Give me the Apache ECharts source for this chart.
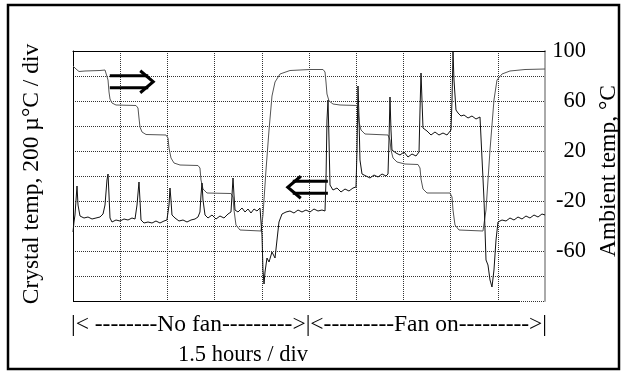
<!DOCTYPE html>
<html>
<head>
<meta charset="utf-8">
<script src="https://cdn.jsdelivr.net/npm/echarts@6/dist/echarts.min.js"></script>
<style>
  html, body { margin: 0; padding: 0; background: #fff; }
  #chart { width: 622px; height: 372px; }
</style>
</head>
<body>
<div id="chart"></div>
<script>
// x in time divisions (1.5 h / div), crystal in divisions (200 µ°C / div), ambient in °C
const crystalNoFan = [
    [0, 2.76], [0.021, 3.16], [0.042, 3.44], [0.064, 4.04], [0.085, 4.6], [0.106, 3.84], [0.148, 3.4],
    [0.233, 3.32], [0.318, 3.36], [0.403, 3.28], [0.487, 3.32], [0.572, 3.36], [0.636, 3.48], [0.678, 3.84],
    [0.72, 4.84], [0.742, 5.08], [0.763, 4.24], [0.784, 3.32], [0.826, 3.16], [0.911, 3.24], [0.996, 3.2],
    [1.081, 3.28], [1.165, 3.24], [1.25, 3.32], [1.314, 3.28], [1.356, 3.84], [1.398, 4.76], [1.419, 4.04],
    [1.441, 3.24], [1.504, 3.12], [1.589, 3.16], [1.674, 3.12], [1.758, 3.2], [1.843, 3.12], [1.928, 3.2],
    [1.99, 3.24], [2.034, 3.84], [2.055, 4.52], [2.076, 4.04], [2.097, 3.44], [2.161, 3.32], [2.246, 3.2],
    [2.331, 3.24], [2.415, 3.16], [2.5, 3.24], [2.585, 3.28], [2.648, 3.36], [2.69, 3.56], [2.712, 4.24],
    [2.733, 4.72], [2.754, 4.04], [2.797, 3.44], [2.86, 3.32], [2.945, 3.44], [3.03, 3.28], [3.114, 3.4],
    [3.199, 3.32], [3.284, 3.48], [3.347, 3.56], [3.369, 4.24], [3.39, 4.92], [3.411, 4.24], [3.432, 3.64],
    [3.496, 3.56], [3.581, 3.72], [3.644, 3.56], [3.708, 3.68], [3.771, 3.52], [3.835, 3.68], [3.898, 3.6],
    [3.962, 3.72], [3.983, 3.68]
];
const crystalFanOn = [
    [4.004, 2.64], [4.025, 1.24], [4.047, 0.68], [4.068, 1.16], [4.11, 1.72], [4.153, 1.56], [4.216, 1.96],
    [4.28, 1.72], [4.322, 2.44], [4.364, 3.16], [4.428, 3.48], [4.513, 3.56], [4.597, 3.6], [4.682, 3.52],
    [4.767, 3.64], [4.852, 3.56], [4.936, 3.64], [5.021, 3.56], [5.106, 3.68], [5.191, 3.6], [5.275, 3.64],
    [5.339, 3.6], [5.36, 4.84], [5.381, 7.24], [5.403, 8.04], [5.424, 6.44], [5.445, 4.64], [5.508, 4.44],
    [5.593, 4.52], [5.678, 4.36], [5.763, 4.48], [5.847, 4.4], [5.932, 4.52], [5.996, 4.56], [6.017, 6.04],
    [6.038, 8.6], [6.059, 7.36], [6.08, 5.64], [6.123, 5.08], [6.208, 5.0], [6.292, 4.92], [6.377, 5.04],
    [6.462, 4.96], [6.547, 5.08], [6.631, 5.0], [6.674, 5.08], [6.695, 6.44], [6.716, 8.16], [6.737, 6.84],
    [6.758, 6.04], [6.843, 5.92], [6.928, 5.84], [7.013, 5.96], [7.097, 5.76], [7.182, 5.88], [7.267, 5.8],
    [7.331, 5.96], [7.352, 7.64], [7.373, 9.12], [7.394, 8.04], [7.415, 6.92], [7.5, 6.8], [7.585, 6.64],
    [7.669, 6.76], [7.754, 6.64], [7.839, 6.72], [7.924, 6.64], [8.008, 6.84], [8.03, 8.04], [8.051, 9.96],
    [8.072, 8.84], [8.114, 7.64], [8.157, 7.52], [8.22, 7.4], [8.284, 7.44], [8.369, 7.32], [8.453, 7.4],
    [8.538, 7.28], [8.623, 7.36], [8.665, 7.32], [8.708, 4.04], [8.75, 1.64], [8.792, 1.44], [8.835, 0.84],
    [8.877, 0.56], [8.919, 1.24], [8.962, 2.44], [9.004, 3.16], [9.089, 3.24], [9.174, 3.2], [9.258, 3.32],
    [9.343, 3.24], [9.428, 3.36], [9.513, 3.28], [9.597, 3.4], [9.682, 3.32], [9.767, 3.44], [9.852, 3.36],
    [9.936, 3.48], [10, 3.44]
];
const ambientNoFan = [
    [0, 88], [0.064, 85.6], [0.127, 83.6], [0.254, 84], [0.572, 84.4], [0.678, 84.8], [0.72, 83.2],
    [0.742, 76.8], [0.763, 67.2], [0.784, 61.6], [0.826, 58.4], [0.911, 56.8], [1.335, 56.4], [1.377, 54.4],
    [1.398, 46.4], [1.419, 39.2], [1.462, 35.2], [1.547, 33.2], [1.97, 32.8], [2.013, 30.4], [2.034, 22.4],
    [2.076, 14.4], [2.14, 10.4], [2.267, 8.8], [2.648, 8.4], [2.69, 6.4], [2.712, -3.2], [2.754, -10.4],
    [2.839, -13.6], [3.347, -14], [3.39, -16.8], [3.411, -27.2], [3.453, -39.2], [3.538, -43.2], [3.983, -44]
];
const ambientFanOn = [
    [4.025, -31.2], [4.089, 4.8], [4.153, 36.8], [4.216, 64], [4.28, 75.2], [4.386, 81.6], [4.597, 84.4],
    [5.021, 85.2], [5.297, 85.2], [5.339, 83.2], [5.36, 75.2], [5.381, 65.6], [5.424, 60], [5.508, 57.6],
    [5.657, 56.8], [6.017, 56.4], [6.038, 52.8], [6.059, 43.2], [6.102, 36.8], [6.186, 33.6], [6.674, 32.8],
    [6.716, 28.8], [6.737, 20.8], [6.78, 14.4], [6.864, 11.2], [7.034, 9.6], [7.309, 9.2], [7.352, 6.4],
    [7.373, -2.4], [7.415, -10.4], [7.5, -13.6], [7.987, -13.6], [8.03, -16.8], [8.051, -27.2], [8.093, -39.2],
    [8.178, -43.2], [8.686, -44], [8.75, -27.2], [8.835, 20.8], [8.919, 60.8], [8.983, 76.8], [9.089, 81.6],
    [9.258, 84], [9.576, 85.2], [10, 85.6]
];
const ambientTicks = [100, 60, 20, -20, -60];
const phaseText = '|< --------No fan--------->|<---------Fan on--------->|';
const timeText = '1.5 hours / div';
const crystalTitle = 'Crystal temp, 200 µ°C / div';
const ambientTitle = 'Ambient temp, °C';

const FONT = "'Liberation Serif', 'Times New Roman', serif";
const chart = echarts.init(document.getElementById('chart'), null, { renderer: 'canvas' });

const option = {
    animation: false,
    backgroundColor: '#fff',
    grid: { left: 73, top: 51, width: 472, height: 250, containLabel: false },
    xAxis: [
        {
            type: 'value', min: 0, max: 10, interval: 1,
            axisLabel: { show: false }, axisTick: { show: false },
            axisLine: { show: false },
            splitLine: { lineStyle: { type: 'dotted', color: '#333', width: 1 } }
        },
        {
            type: 'value', position: 'top', min: 0, max: 10,
            axisLabel: { show: false }, axisTick: { show: false }, splitLine: { show: false },
            axisLine: { onZero: false, lineStyle: { color: '#000', width: 1 } }
        }
    ],
    yAxis: [
        {
            type: 'value', position: 'left', min: 0, max: 10, interval: 1,
            axisLabel: { show: false }, axisTick: { show: false },
            axisLine: { show: true, onZero: false, lineStyle: { color: '#000', width: 1 } },
            splitLine: { lineStyle: { type: 'dotted', color: '#333', width: 1 } }
        },
        {
            type: 'value', position: 'right', min: -100, max: 100, interval: 40,
            axisTick: { show: false }, splitLine: { show: false },
            axisLine: { show: true, onZero: false, lineStyle: { color: '#aaa', width: 2 } },
            axisLabel: {
                align: 'right', margin: 41, color: '#000', fontSize: 22.5, fontFamily: FONT,
                showMinLabel: true, showMaxLabel: true,
                formatter: v => ambientTicks.includes(v) ? String(v) : ''
            }
        }
    ],
    series: [
        {
            name: 'Ambient', type: 'line', yAxisIndex: 1, symbol: 'none',
            data: ambientNoFan.concat(ambientFanOn),
            lineStyle: { color: '#555', width: 1 }
        },
        {
            name: 'Crystal', type: 'line', yAxisIndex: 0, symbol: 'none',
            data: crystalNoFan.concat(crystalFanOn),
            lineStyle: { color: '#111', width: 1 }
        }
    ]
};
chart.setOption(option);

// arrows drawn in grid coordinates
function arrow(tail, tip, half, gap) {
    const a = chart.convertToPixel({ gridIndex: 0 }, tail);
    const b = chart.convertToPixel({ gridIndex: 0 }, tip);
    const dir = b[0] > a[0] ? 1 : -1;
    const stem = b[0] - dir * 5;
    const style = { stroke: '#000', lineWidth: 3 };
    return [
        { type: 'line', shape: { x1: a[0], y1: b[1] - gap, x2: stem, y2: b[1] - gap }, style },
        { type: 'line', shape: { x1: a[0], y1: b[1] + gap, x2: stem, y2: b[1] + gap }, style },
        { type: 'polyline', shape: { points: [[b[0] - dir * 13, b[1] - half], b, [b[0] - dir * 13, b[1] + half]] },
          style: { stroke: '#000', lineWidth: 3, fill: null } }
    ];
}

// bottom frame line stops short of the right edge, as in the original plot
const b0 = chart.convertToPixel({ gridIndex: 0 }, [0, 0]);
const b1 = chart.convertToPixel({ gridIndex: 0 }, [9.47, 0]);

const textStyle = { fill: '#000', fontSize: 23.5, fontFamily: FONT, align: 'center', verticalAlign: 'middle' };
chart.setOption({
    graphic: [
        { type: 'rect', shape: { x: 8, y: 5, width: 611, height: 364 }, style: { fill: null, stroke: '#000', lineWidth: 2.5 } },
        { type: 'line', shape: { x1: b0[0], y1: Math.round(b0[1]) + 0.5, x2: b1[0], y2: Math.round(b0[1]) + 0.5 },
          style: { stroke: '#000', lineWidth: 1 } },
        ...arrow([0.78, 8.77], [1.70, 8.77], 11, 6),
        ...arrow([5.4, 4.55], [4.55, 4.55], 11, 6),
        { type: 'text', x: 32, y: 174, rotation: Math.PI / 2, style: Object.assign({ text: crystalTitle }, textStyle) },
        { type: 'text', x: 609, y: 171, rotation: Math.PI / 2, style: Object.assign({ text: ambientTitle }, textStyle) },
        { type: 'text', x: 309, y: 325, style: Object.assign({ text: phaseText }, textStyle) },
        { type: 'text', x: 243, y: 355, style: Object.assign({}, textStyle, { text: timeText, fontSize: 22.5 }) }
    ]
});
</script>
</body>
</html>
